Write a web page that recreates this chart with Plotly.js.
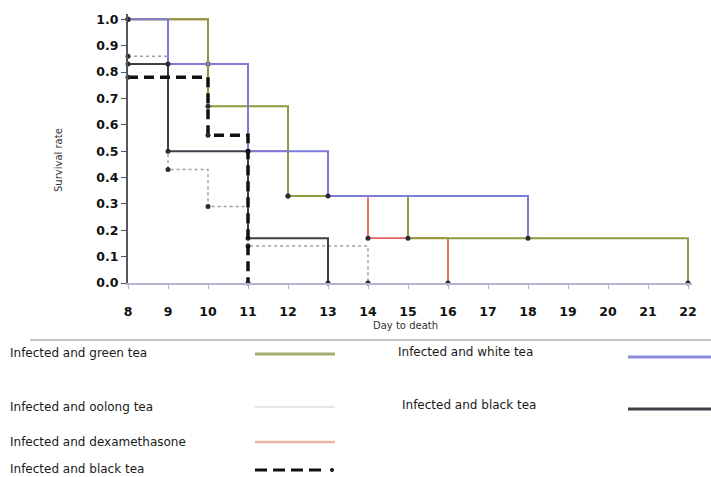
<!DOCTYPE html>
<html>
<head>
<meta charset="utf-8">
<script src="https://cdn.plot.ly/plotly-3.0.1.min.js"></script>
<style>html,body{margin:0;padding:0;background:#fff;}#chart{width:711px;height:477px;}</style>
</head>
<body>
<div id="chart"></div>
<script>
// ---- data (Kaplan-Meier step curves) ----
const dayTicks = [8, 9, 10, 11, 12, 13, 14, 15, 16, 17, 18, 19, 20, 21, 22];
const rateTicks = [0, 0.1, 0.2, 0.3, 0.4, 0.5, 0.6, 0.7, 0.8, 0.9, 1.0];
const rateTickLabels = ["0.0", "0.1", "0.2", "0.3", "0.4", "0.5", "0.6", "0.7", "0.8", "0.9", "1.0"];

const oolongDays = [8, 9, 10, 11, 14];
const oolongRate = [0.86, 0.43, 0.29, 0.14, 0];

const blackDays = [8, 9, 11, 13];
const blackRate = [0.83, 0.5, 0.17, 0];

const dexDays = [8, 10, 11, 12, 14, 16];
const dexRate = [1, 0.83, 0.5, 0.33, 0.17, 0];

const greenDays = [8, 10, 12, 15, 22];
const greenRate = [1, 0.67, 0.33, 0.17, 0];

const whiteDays = [8, 9, 11, 13, 18];
const whiteRate = [1, 0.83, 0.5, 0.33, 0.17];

const blackDashDays = [8, 10, 11];
const blackDashRate = [0.78, 0.56, 0];

const legendNames = [
  "Infected and green tea", "Infected and white tea",
  "Infected and oolong tea", "Infected and black tea",
  "Infected and dexamethasone", "Infected and black tea"
];

// ---- geometry ----
const W = 711, H = 477;
const M = {l: 128, r: 19, t: 14, b: 194};
const PW = W - M.l - M.r, PH = H - M.t - M.b;
const px = x => (x - M.l) / PW;
const py = y => (H - M.b - y) / PH;

const mk = {color: '#2a2a30', size: 5};
function tr(x, y, color, width, dash, name) {
  return {x: x, y: y, type: 'scatter', mode: 'lines+markers', name: name,
    line: {shape: 'hv', color: color, width: width, dash: dash || 'solid'},
    marker: mk, showlegend: false, cliponaxis: false, hoverinfo: 'skip'};
}
const cGreen = '#8f9a3c', cWhite = '#7c7cd8', cOolong = '#a0a0a8', cBlack = '#3e3e48', cDex = '#e0675c', cDash = '#111111';

const data = [
  tr(oolongDays, oolongRate, cOolong, 1.5, 'dot', legendNames[2]),
  tr(blackDays, blackRate, cBlack, 2, 'solid', legendNames[3]),
  tr(dexDays, dexRate, cDex, 1.8, 'solid', legendNames[4]),
  tr(greenDays, greenRate, cGreen, 2, 'solid', legendNames[0]),
  tr(whiteDays, whiteRate, cWhite, 2, 'solid', legendNames[1]),
  tr(blackDashDays, blackDashRate, cDash, 3.5, '10px,6px', legendNames[5])
];

const F = 'DejaVu Sans, Arial, sans-serif';
const annotations = [];
const shapes = [];
function label(text, x, y) {
  annotations.push({text: text, xref: 'paper', yref: 'paper', x: px(x), y: py(y),
    xanchor: 'left', yanchor: 'middle', showarrow: false,
    font: {family: F, size: 12, color: '#1a1a1a'}});
}
function sample(x0, x1, y, color, width, dash) {
  shapes.push({type: 'line', xref: 'paper', yref: 'paper', x0: px(x0), x1: px(x1), y0: py(y), y1: py(y),
    line: {color: color, width: width, dash: dash || 'solid'}});
}
label(legendNames[0], 8, 353); sample(255, 335, 354, '#a3ae72', 3);
label(legendNames[1], 396, 352); sample(628, 711, 357, '#8d8de0', 3);
label(legendNames[2], 8, 407); sample(255, 335, 407, '#dcdcdc', 1.5);
label(legendNames[3], 400, 405); sample(628, 711, 409, '#404048', 3);
label(legendNames[4], 8, 442); sample(255, 335, 442, '#e9b4a4', 2.5);
label(legendNames[5], 8, 469); sample(255, 325, 470, '#111', 3, '12px,6px');
shapes.push({type: 'circle', xref: 'paper', yref: 'paper', x0: px(330), x1: px(334), y0: py(468), y1: py(472),
  fillcolor: '#111', line: {width: 0}});
// separator line
shapes.push({type: 'line', xref: 'paper', yref: 'paper', x0: px(30), x1: px(711), y0: py(340), y1: py(340),
  line: {color: '#8a8a8a', width: 1}});
// axis titles
annotations.push({text: 'Day to death', xref: 'paper', yref: 'paper', x: px(405), y: py(325),
  xanchor: 'center', yanchor: 'middle', showarrow: false, font: {family: F, size: 10, color: '#333'}});
annotations.push({text: 'Survival rate', xref: 'paper', yref: 'paper', x: px(58), y: py(160),
  xanchor: 'center', yanchor: 'middle', textangle: -90, showarrow: false, font: {family: F, size: 10, color: '#333'}});

const layout = {
  width: W, height: H, margin: M,
  paper_bgcolor: '#fff', plot_bgcolor: '#fff',
  showlegend: false,
  xaxis: {range: [8, 22.1], tickvals: dayTicks, ticktext: dayTicks.map(String),
    showgrid: false, zeroline: false, showline: true, linecolor: '#b4b4d2', linewidth: 1.5,
    ticks: 'outside', ticklen: 4, tickcolor: '#b4b4d2', ticklabelstandoff: 12,
    tickfont: {family: F, size: 12.5, color: '#111', weight: 'bold'}},
  yaxis: {range: [0, 1.02], tickvals: rateTicks, ticktext: rateTickLabels,
    showgrid: false, zeroline: false, showline: true, linecolor: '#555560', linewidth: 2,
    ticks: 'outside', ticklen: 5, tickcolor: '#555560',
    tickfont: {family: F, size: 12.5, color: '#111', weight: 'bold'}},
  annotations: annotations, shapes: shapes
};
Plotly.newPlot('chart', data, layout, {displayModeBar: false, staticPlot: true});
</script>
</body>
</html>
